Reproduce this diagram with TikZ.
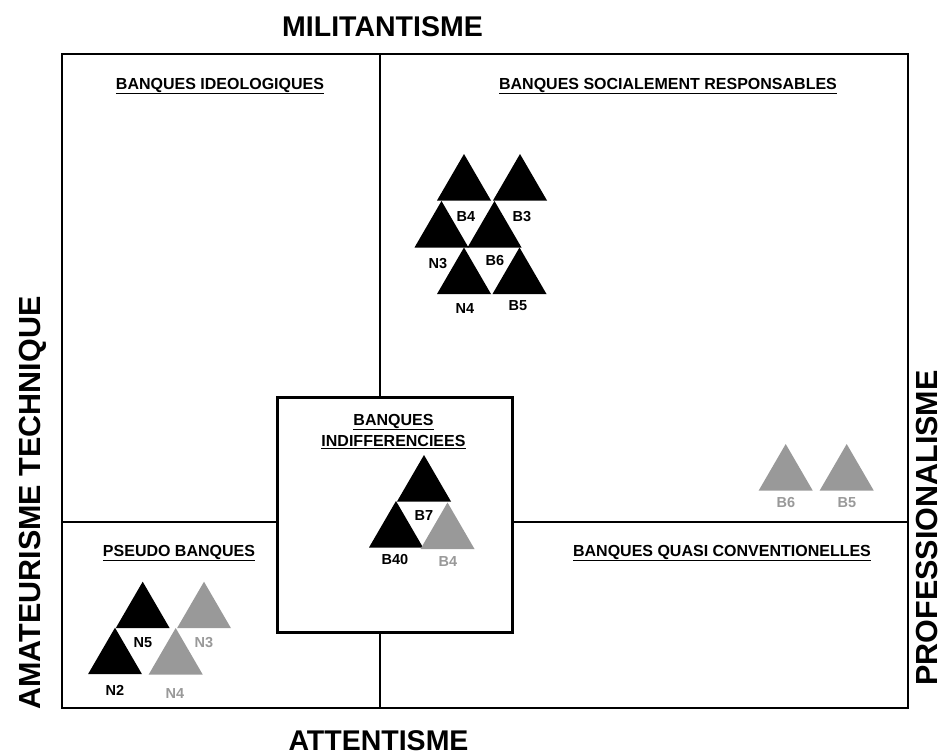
\documentclass[tikz,border=0pt]{standalone}
\usepackage{fontspec}
\setmainfont{Liberation Sans}
\definecolor{tgray}{RGB}{153,153,153}
\begin{document}
\begin{tikzpicture}[x=1bp,y=-1bp,
  axislab/.style={font=\bfseries\fontsize{28.5bp}{34bp}\selectfont, inner sep=0pt},
  vaxislab/.style={font=\bfseries\fontsize{30.5bp}{36bp}\selectfont, inner sep=0pt, rotate=90},
  qtitle/.style={font=\bfseries\fontsize{16bp}{20bp}\selectfont, inner sep=0pt, align=center},
  lab/.style={font=\bfseries\fontsize{14.5bp}{17bp}\selectfont, inner sep=0pt},
  glab/.style={lab, text=tgray},
  frameline/.style={line width=1.3bp},
  boxline/.style={line width=3bp},
  tri/.pic={\fill (0,0) -- (-27,46.5) -- (27,46.5) -- cycle;}
]
\useasboundingbox (0,0) rectangle (943,756);
% frame and dividers
\coordinate (ftl) at (62,54);
\coordinate (fbr) at (908,708);
\coordinate (vtop) at (380,54);
\coordinate (vbot) at (380,708);
\coordinate (hleft) at (62,522);
\coordinate (hright) at (908,522);
\draw[frameline] (ftl) rectangle (fbr);
\draw[frameline] (vtop) -- (vbot);
\draw[frameline] (hleft) -- (hright);
\coordinate (btl) at (277,397);
\coordinate (bbr) at (512,632);
\draw[boxline, fill=white] (btl) rectangle (bbr);
% axis titles
\node[axislab] (mil) at (382.5,27) {MILITANTISME};
\node[axislab] (att) at (378.5,740.5) {ATTENTISME};
\node[vaxislab] (ama) at (33,503) {AMATEURISME TECHNIQUE};
\node[vaxislab] (pro) at (926.5,528) {PROFESSIONALISME};
% quadrant titles
\node[qtitle] (qid) at (220,86) {\underline{BANQUES IDEOLOGIQUES}};
\node[qtitle] (qsr) at (668,86) {\underline{BANQUES SOCIALEMENT RESPONSABLES}};
\node[qtitle] (qps) at (179,553) {\underline{PSEUDO BANQUES}};
\node[qtitle] (qqc) at (722,553) {\underline{BANQUES QUASI CONVENTIONELLES}};
\node[qtitle] (qin1) at (393.5,422) {\underline{BANQUES}};
\node[qtitle] (qin2) at (393.5,442) {\underline{INDIFFERENCIEES}};
% socially responsible cluster
\pic[black] at (464,154) {tri};
\pic[black] at (520,154) {tri};
\pic[black] at (441.5,201) {tri};
\pic[black] at (494.5,201) {tri};
\pic[black] at (464,247.5) {tri};
\pic[black] at (519.5,247.5) {tri};
\node[lab] (sB4) at (466,217) {B4};
\node[lab] (sB3) at (522,217) {B3};
\node[lab] (sN3) at (438,264) {N3};
\node[lab] (sB6) at (495,261) {B6};
\node[lab] (sN4) at (465,309) {N4};
\node[lab] (sB5) at (518,306) {B5};
% indifferent banks
\pic[black] at (424,455) {tri};
\pic[black] at (396,501) {tri};
\pic[tgray] at (447.5,502.5) {tri};
\node[lab] (iB7) at (424,516) {B7};
\node[lab] (iB40) at (395,560) {B40};
\node[glab] (iB4) at (448,562) {B4};
% pseudo banks
\pic[black] at (142.7,581.7) {tri};
\pic[tgray] at (204,581.7) {tri};
\pic[black] at (115,627.7) {tri};
\pic[tgray] at (175.7,628) {tri};
\node[lab] (pN5) at (143,643) {N5};
\node[glab] (pN3) at (204,643) {N3};
\node[lab] (pN2) at (115,690) {N2};
\node[glab] (pN4) at (175,694) {N4};
% quasi conventional (gray)
\pic[tgray] at (785.7,444) {tri};
\pic[tgray] at (846.7,444) {tri};
\node[glab] (qB6) at (786,503) {B6};
\node[glab] (qB5) at (847,503) {B5};
\end{tikzpicture}
\end{document}
